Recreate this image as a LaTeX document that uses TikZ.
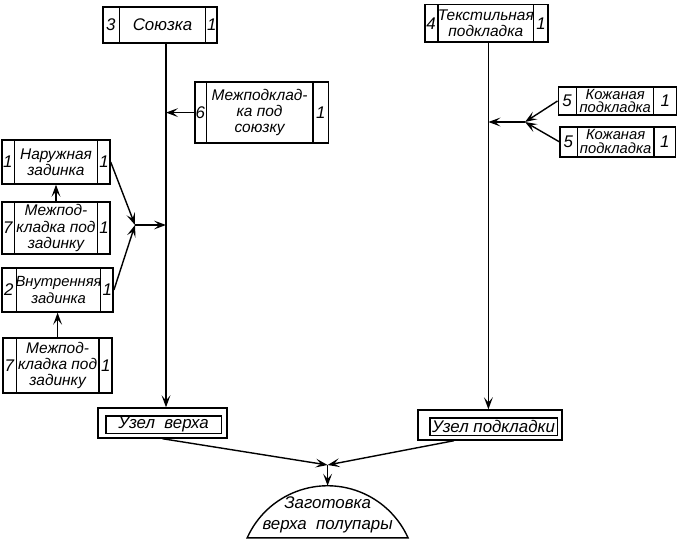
\documentclass[tikz,border=0pt]{standalone}
\usepackage{fontspec}
\setmainfont{Liberation Sans}
\usetikzlibrary{arrows.meta}
\tikzset{
arr/.style = { line width = 1pt, -{Stealth[length = 3mm, width = 2.2mm, inset = 1.3mm]} },
partbox/.style = { rectangle, draw = black, line width = 1pt, fill = white, inner sep = 0pt },
part font/.store in = \partfont, part font = \fontsize{11}{11.5}\selectfont,
parttext/.style = { black, align = center, inner sep = 0pt, font = \partfont\itshape },
numtext/.style = { black, inner sep = 0pt, font = \fontsize{12}{12}\selectfont\itshape },
unit/.style = { rectangle, draw = black, line width = 1pt, inner sep = 0pt },
unitin/.style = { rectangle, draw = black, line width = 1pt, inner sep = 0pt, font = \fontsize{12}{12}\selectfont\itshape },
}
\tikzset{
pics/part/.style args={#1/#2/#3/#4/#5/#6}{
        code = {
        \node[partbox, minimum width = #3, minimum height = #4] (-box) at (0.0, 0.0) {};
        \draw[line width = 1pt] ([xshift = #5]-box.north west) -- ([xshift = #5]-box.south west);
        \draw[line width = 1pt] ([xshift = -#6]-box.north east) -- ([xshift = -#6]-box.south east);
        \node[numtext] (-num) at ([xshift = #5/2]-box.west) {#1};
        \node[numtext] (-qty) at ([xshift = -#6/2]-box.east) {1};
        \node[parttext] (-name) at ([xshift = {(#5-#6)/2}]-box.center) {#2};
        }
    },
}
\begin{document}
\begin{tikzpicture}
    \useasboundingbox (0, 0) rectangle (16.925, 13.475);
    \draw (4.0, 12.85) pic (soyuzka) [part font = \fontsize{12}{12}\selectfont] {part = {3/Союзка/2.85cm/0.9cm/4.25mm/3mm}};
    \draw (12.16, 12.89) pic (tekst) {part = {4/Текстильная\\подкладка/3.08cm/0.93cm/3.5mm/3.8mm}};
    \draw (6.54, 10.66) pic (mezhsoy) {part = {6/Межподклад-\\ка под\\союзку/3.33cm/1.53cm/3mm/4mm}};
    \draw (15.43, 10.95) pic (kozh1) [part font = \fontsize{10.5}{9.5}\selectfont] {part = {5/Кожаная\\подкладка/2.95cm/0.7cm/4.8mm/5.8mm}};
    \draw (15.44, 9.93) pic (kozh2) [part font = \fontsize{10.5}{10}\selectfont] {part = {5/Кожаная\\подкладка/2.88cm/0.75cm/4.5mm/5.5mm}};
    \draw (1.4, 9.425) pic (naruzh) {part = {1/Наружная\\задинка/2.7cm/1.1cm/3.3mm/3.3mm}};
    \draw (1.4, 7.775) pic (mezhzad1) {part = {7/Межпод-\\кладка под\\задинку/2.7cm/1.3cm/3.3mm/3.3mm}};
    \draw (1.44, 6.225) pic (vnutr) [part font = \fontsize{10.5}{11.5}\selectfont] {part = {2/Внутренняя\\задинка/2.78cm/1.1cm/3.8mm/3.3mm}};
    \draw (1.44, 4.34) pic (mezhzad2) {part = {7/Межпод-\\кладка под\\задинку/2.73cm/1.38cm/3.5mm/3.5mm}};
    % assembly units
    \node[unit, minimum width = 3.23cm, minimum height = 0.75cm] (verh) at (4.06, 2.9) {};
    \node[unitin, minimum width = 2.88cm, minimum height = 0.43cm] (verh-in) at (4.09, 2.86) {Узел\ \ верха};
    \node[unit, minimum width = 3.6cm, minimum height = 0.75cm] (podkl) at (12.25, 2.85) {};
    \node[unitin, minimum width = 3.18cm, minimum height = 0.43cm] (podkl-in) at (12.34, 2.81) {Узел подкладки};
    % blank
    \draw[line width = 1pt] (6.18, 0.03) arc[start angle = 155.8, end angle = 24.2, radius = 2.204cm] -- cycle;
    \node[parttext, font = \fontsize{12}{15}\selectfont\itshape] (blank) at (8.19, 0.6) {Заготовка\\верха\ \ полупары};
    \coordinate (arctop) at (8.19, 1.33);
    % joints
    \coordinate (vl) at ([xshift = 1.5mm]soyuzka-box.south);
    \coordinate (vr) at ([xshift = 0.5mm]tekst-box.south);
    \coordinate (jl) at (3.375, 7.85);
    \coordinate (jr) at (13.125, 10.425);
    \coordinate (jb) at (8.19, 1.85);
    \draw[arr] (vl) -- (vl |- verh.north);
    \draw[arr] (vr) -- (vr |- podkl.north);
    \draw[arr] (mezhsoy-box.west) -- (mezhsoy-box.west -| vl);
    \draw[arr] (naruzh-box.east) -- (jl);
    \draw[arr] (vnutr-box.east) -- (jl);
    \draw[arr] (jl) -- (jl -| vl);
    \draw[arr] (mezhzad1-box.north) -- (naruzh-box.south);
    \draw[arr] (mezhzad2-box.north) -- (vnutr-box.south);
    \draw[arr] (kozh1-box.west) -- (jr);
    \draw[arr] (kozh2-box.west) -- (jr);
    \draw[arr] (jr) -- (jr -| vr);
    \draw[arr] (verh.south) -- (jb);
    \draw[arr] ([xshift = -9mm]podkl.south) -- (jb);
    \draw[arr] (jb) -- (arctop);
\end{tikzpicture}
\end{document}
